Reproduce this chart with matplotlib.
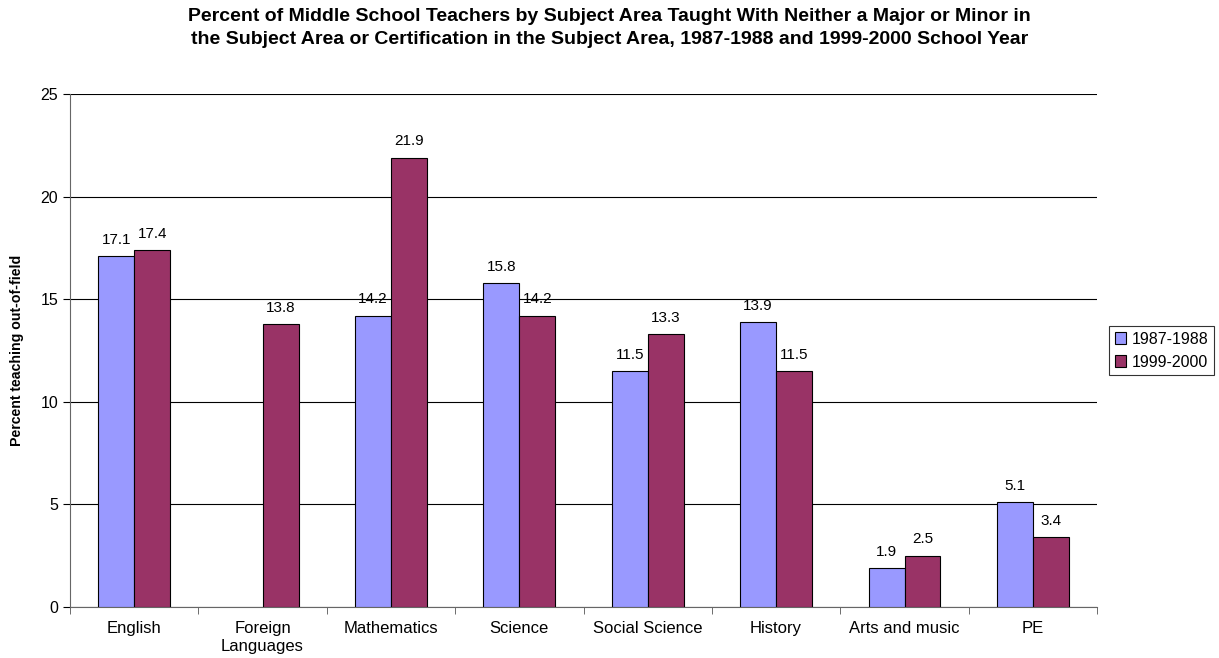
import numpy as np
import matplotlib.pyplot as plt

plt.rcParams['font.family'] = ['Liberation Sans', 'DejaVu Sans']

# Data
subjects = ["English", "Foreign\nLanguages", "Mathematics", "Science",
            "Social Science", "History", "Arts and music", "PE"]
y1987 = [17.1, np.nan, 14.2, 15.8, 11.5, 13.9, 1.9, 5.1]
y1999 = [17.4, 13.8, 21.9, 14.2, 13.3, 11.5, 2.5, 3.4]
series_names = ["1987-1988", "1999-2000"]

fig = plt.figure(figsize=(12.19, 6.58), dpi=100)
ax = fig.add_axes([0.0574, 0.0775, 0.8426, 0.7795])

x = np.arange(len(subjects))
w = 0.28
b1 = ax.bar(x - w / 2, y1987, w, color="#9999FF", edgecolor="black",
            linewidth=0.8, label=series_names[0], zorder=3)
b2 = ax.bar(x + w / 2, y1999, w, color="#993366", edgecolor="black",
            linewidth=0.8, label=series_names[1], zorder=3)

for bars, vals in ((b1, y1987), (b2, y1999)):
    for rect, v in zip(bars, vals):
        if np.isnan(v):
            continue
        ax.text(rect.get_x() + rect.get_width() / 2, v + 0.45, f"{v:.1f}",
                ha="center", va="bottom", fontsize=11)

ax.set_xlim(-0.5, len(subjects) - 0.5)
ax.set_ylim(0, 25)
ax.set_yticks(range(0, 26, 5))
ax.yaxis.grid(True, color="black", linewidth=0.8, zorder=0)
ax.set_axisbelow(True)

ax.set_xticks(x)
ax.set_xticklabels(subjects, fontsize=12, linespacing=1.3)
ax.set_xticks(np.arange(-0.5, len(subjects)), minor=True)
ax.tick_params(axis="x", which="major", length=0, pad=10)
ax.tick_params(axis="x", which="minor", length=5, color="#555555")
ax.tick_params(axis="y", length=5, labelsize=11.5, color="black")

for side in ("top", "right"):
    ax.spines[side].set_visible(False)
ax.spines["left"].set_color("#666666")
ax.spines["bottom"].set_color("#666666")

ax.set_ylabel("Percent teaching out-of-field", fontsize=10.2, fontweight="bold",
              labelpad=12)

fig.suptitle("Percent of Middle School Teachers by Subject Area Taught With Neither a Major or Minor in\n"
             "the Subject Area or Certification in the Subject Area, 1987-1988 and 1999-2000 School Year",
             x=0.5, y=0.988, fontsize=14, fontweight="bold", linespacing=1.45)

leg = ax.legend(loc="center left", bbox_to_anchor=(1.004, 0.5), fontsize=11.5,
                frameon=True, fancybox=False, edgecolor="black",
                handlelength=0.7, handleheight=0.7, handletextpad=0.35,
                borderpad=0.35, labelspacing=0.5)
leg.get_frame().set_linewidth(0.8)

fig.savefig("out.png", dpi=100)
